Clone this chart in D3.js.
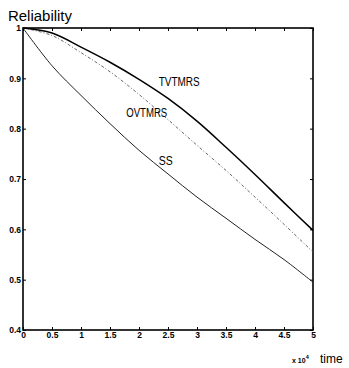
<!DOCTYPE html>
<html>
<head>
<meta charset="utf-8">
<script src="https://cdn.jsdelivr.net/npm/d3@7"></script>
<style>
  body { margin: 0; background: #fff; }
  svg { display: block; }
  .tick text { font-family: "Liberation Sans", Arial, sans-serif; font-weight: bold; font-size: 8.5px; fill: #000; }
  .domain { display: none; }
  .tick line { stroke: #000; stroke-width: 1; }
</style>
</head>
<body>
<div id="chart"></div>
<script>
// values (time in units of 10^4)
var times  = [0, 0.5, 1, 1.5, 2, 2.5, 3, 3.5, 4, 4.5, 5];
var tvtmrs = [1.0, 0.99, 0.962, 0.932, 0.898, 0.86, 0.815, 0.763, 0.709, 0.653, 0.598];
var ovtmrs = [1.0, 0.985, 0.951, 0.913, 0.868, 0.818, 0.767, 0.717, 0.664, 0.61, 0.555];
var ss     = [1.0, 0.925, 0.866, 0.81, 0.757, 0.71, 0.664, 0.622, 0.58, 0.54, 0.495];

var xTicks = [0, 0.5, 1, 1.5, 2, 2.5, 3, 3.5, 4, 4.5, 5];
var yTicks = [0.4, 0.5, 0.6, 0.7, 0.8, 0.9, 1];

var W = 349, H = 368;
var pLeft = 23, pRight = 313, pTop = 28, pBottom = 330;

var svg = d3.select("#chart").append("svg")
    .attr("width", W)
    .attr("height", H);

var x = d3.scaleLinear().domain([0, 5]).range([pLeft, pRight]);
var y = d3.scaleLinear().domain([0.4, 1]).range([pBottom, pTop]);

var fmt = function(d){ return String(d); };

// axes, ticks pointing inside like the old matlab plot
svg.append("g")
    .attr("transform", "translate(0," + pBottom + ")")
    .call(d3.axisBottom(x).tickValues(xTicks).tickFormat(fmt).tickSize(-3).tickPadding(1.5));

svg.append("g")
    .attr("transform", "translate(" + pLeft + ",0)")
    .call(d3.axisLeft(y).tickValues(yTicks).tickFormat(fmt).tickSize(-3).tickPadding(2));

svg.append("g")
    .attr("transform", "translate(0," + pTop + ")")
    .call(d3.axisTop(x).tickValues(xTicks).tickFormat("").tickSize(-3));

svg.append("g")
    .attr("transform", "translate(" + pRight + ",0)")
    .call(d3.axisRight(y).tickValues(yTicks).tickFormat("").tickSize(-3));

// frame
svg.append("rect")
    .attr("x", pLeft)
    .attr("y", pTop)
    .attr("width", pRight - pLeft)
    .attr("height", pBottom - pTop)
    .attr("fill", "none")
    .attr("stroke", "#000")
    .attr("stroke-width", 1.6);

var line = d3.line()
    .x(function(d, i){ return x(times[i]); })
    .y(function(d){ return y(d); })
    .curve(d3.curveCatmullRom);

svg.append("path")
    .datum(ss)
    .attr("d", line)
    .attr("fill", "none")
    .attr("stroke", "#222")
    .attr("stroke-width", 1);

svg.append("path")
    .datum(ovtmrs)
    .attr("d", line)
    .attr("fill", "none")
    .attr("stroke", "#555")
    .attr("stroke-width", 0.9)
    .attr("stroke-dasharray", "3,2,1,2");

svg.append("path")
    .datum(tvtmrs)
    .attr("d", line)
    .attr("fill", "none")
    .attr("stroke", "#000")
    .attr("stroke-width", 1.5);

// curve labels
var labels = [
  {text: "TVTMRS", t: 2.34, r: 0.885, w: 41},
  {text: "OVTMRS", t: 1.78, r: 0.823, w: 41},
  {text: "SS", t: 2.34, r: 0.728, w: 14}
];
svg.selectAll(".lbl")
    .data(labels)
    .enter()
    .append("text")
    .attr("class", "lbl")
    .attr("x", function(d){ return x(d.t); })
    .attr("y", function(d){ return y(d.r); })
    .attr("textLength", function(d){ return d.w; })
    .attr("lengthAdjust", "spacingAndGlyphs")
    .style("font-family", "Liberation Sans, Arial, sans-serif")
    .style("font-size", "12.5px")
    .text(function(d){ return d.text; });

// titles
svg.append("text")
    .attr("x", 8)
    .attr("y", 21)
    .attr("textLength", 64)
    .attr("lengthAdjust", "spacingAndGlyphs")
    .style("font-family", "Liberation Sans, Arial, sans-serif")
    .style("font-size", "14px")
    .text("Reliability");

var xl = svg.append("text")
    .attr("x", 292)
    .attr("y", 363)
    .style("font-family", "Liberation Sans, Arial, sans-serif")
    .style("font-weight", "bold")
    .style("font-size", "7px");
xl.append("tspan").text("x 10");
xl.append("tspan").attr("dy", -4).style("font-size", "5.5px").text("4");

svg.append("text")
    .attr("x", 320)
    .attr("y", 363)
    .style("font-family", "Liberation Sans, Arial, sans-serif")
    .style("font-size", "12px")
    .text("time");
</script>
</body>
</html>
